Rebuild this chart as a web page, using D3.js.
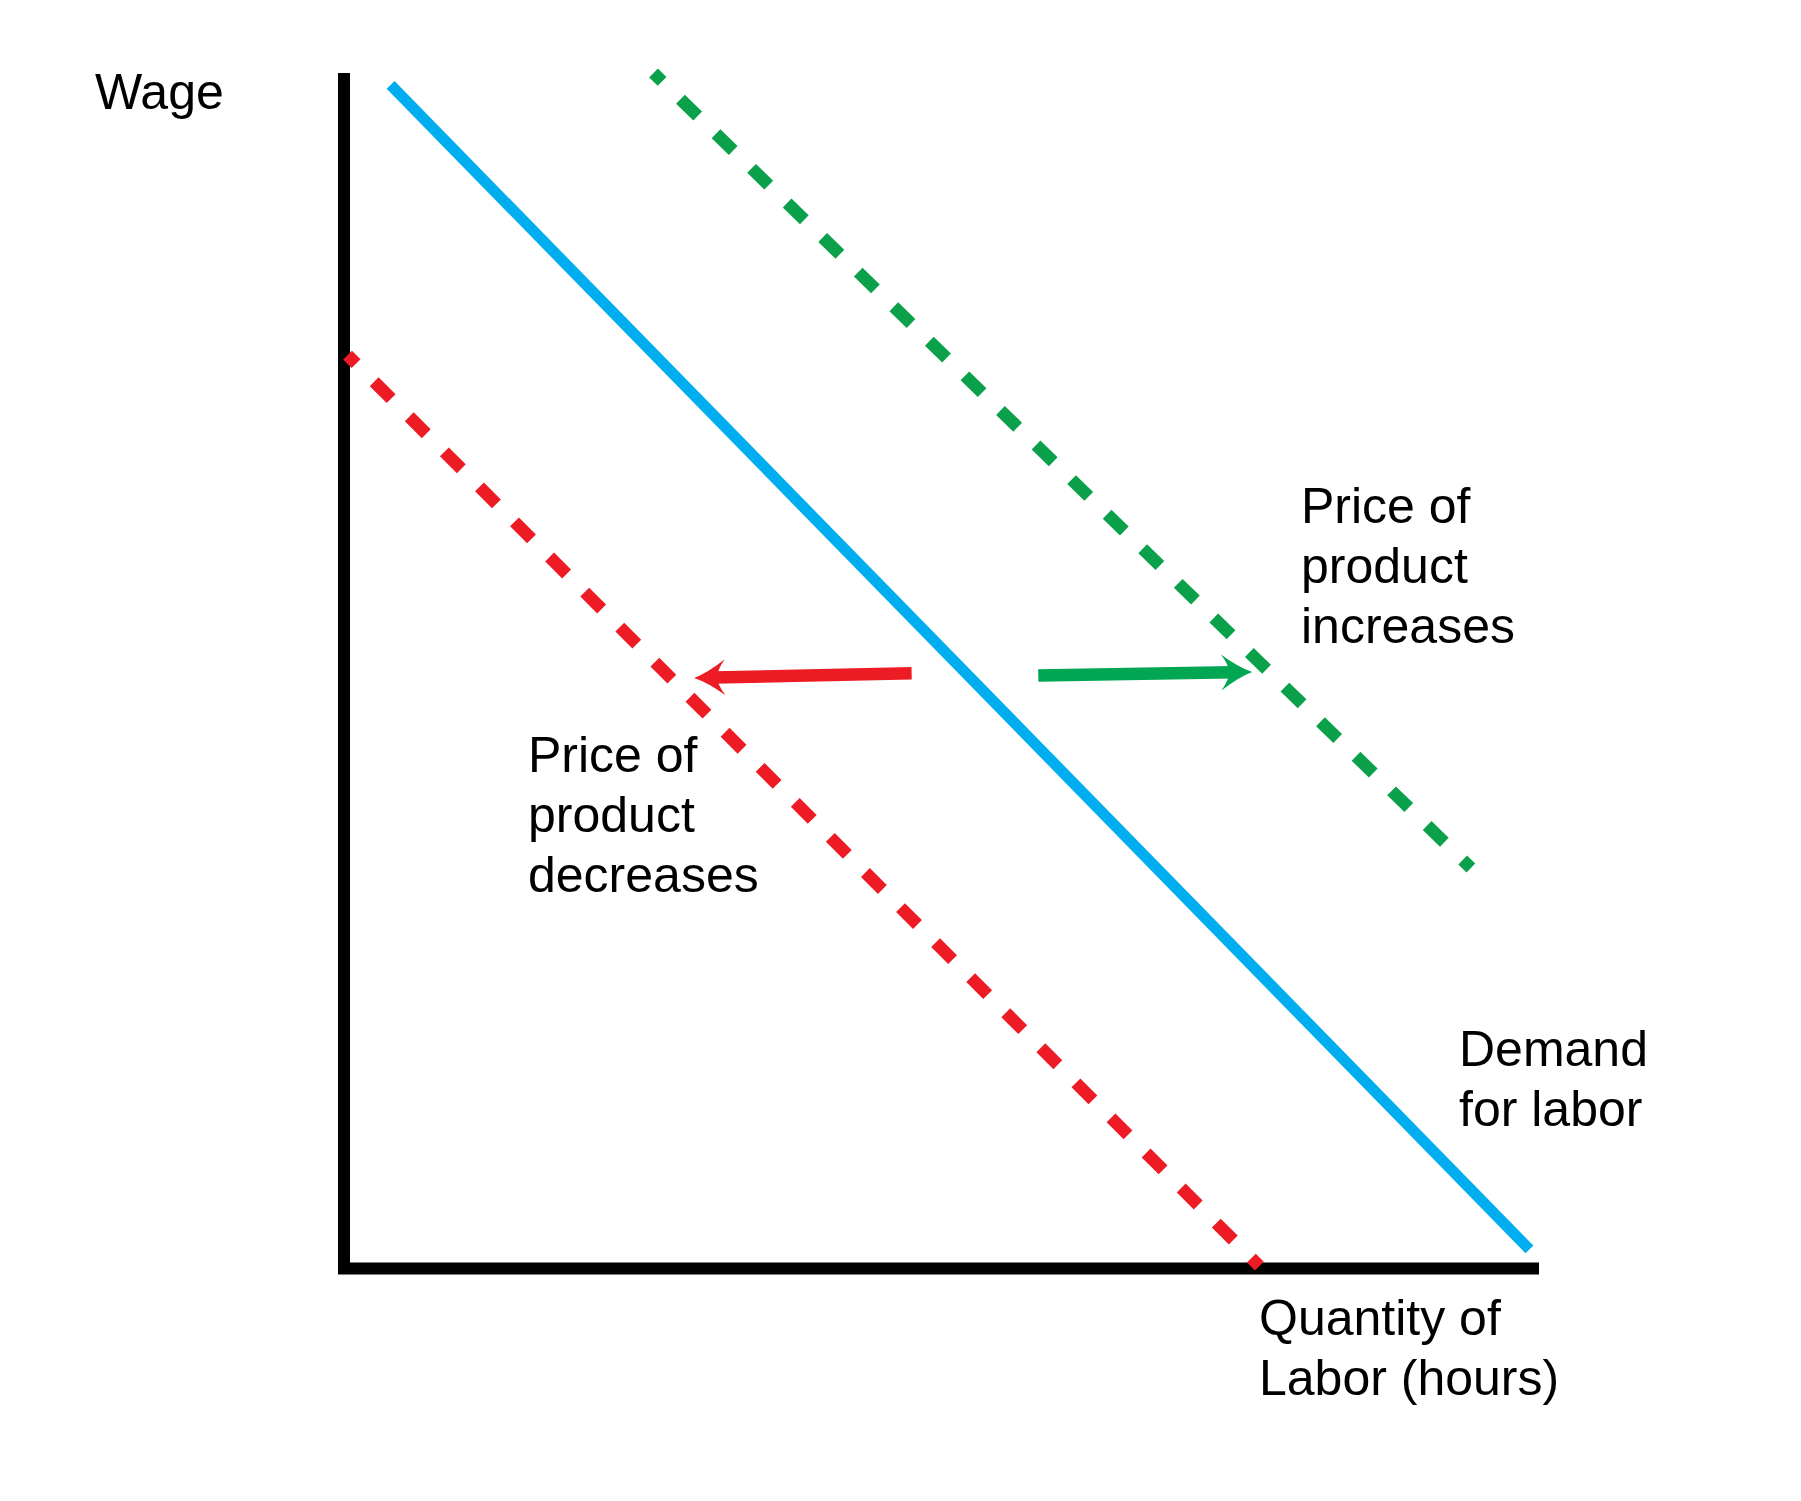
<!DOCTYPE html>
<html>
<head>
<meta charset="utf-8">
<script src="https://cdn.jsdelivr.net/npm/d3@7/dist/d3.min.js"></script>
<style>
  html, body { margin: 0; padding: 0; background: #fff; }
  svg { display: block; }
  text { font-family: "Liberation Sans", Arial, Helvetica, sans-serif; font-size: 50px; fill: #000; }
</style>
</head>
<body>
<script>
// ---- data (in chart units: quantity 0..100, wage 0..100) ----
const demandLine   = [[3.9, 99.0], [99.2, 1.6]];
const increaseLine = [[25.9, 100.0], [94.3, 33.5]];
const decreaseLine = [[0.3, 76.4], [76.6, 0.2]];
const decreaseArrow = [[47.5, 49.8], [29.3, 49.4]];
const increaseArrow = [[58.1, 49.6], [76.0, 49.9]];
const yAxisLabel = ["Wage"];
const xAxisLabel = ["Quantity of", "Labor (hours)"];
const demandLabel = ["Demand", "for labor"];
const increaseLabel = ["Price of", "product", "increases"];
const decreaseLabel = ["Price of", "product", "decreases"];

const W = 1801, H = 1501;
const svg = d3.select("body").append("svg").attr("width", W).attr("height", H);

const x = d3.scaleLinear().domain([0, 100]).range([344, 1539]);
const y = d3.scaleLinear().domain([0, 100]).range([1268.5, 73]);
const line = d3.line().x(d => x(d[0])).y(d => y(d[1]));

// axes (L shape)
svg.append("path")
  .attr("d", line([[0, 100], [0, 0], [100, 0]]))
  .attr("fill", "none").attr("stroke", "#000").attr("stroke-width", 12)
  .attr("stroke-linejoin", "miter").attr("stroke-linecap", "butt");

// demand line
svg.append("path").attr("d", line(demandLine))
  .attr("fill", "none").attr("stroke", "#00AEEF").attr("stroke-width", 11);

// shifted lines (dashed)
svg.append("path").attr("d", line(increaseLine))
  .attr("fill", "none").attr("stroke", "#0BA14B").attr("stroke-width", 12.5)
  .attr("stroke-dasharray", "24 25.6").attr("stroke-dashoffset", 12);
svg.append("path").attr("d", line(decreaseLine))
  .attr("fill", "none").attr("stroke", "#ED1C24").attr("stroke-width", 12.5)
  .attr("stroke-dasharray", "24 25.6").attr("stroke-dashoffset", 12);

// arrows
function arrow(pts, color) {
  const x1 = x(pts[0][0]), y1 = y(pts[0][1]);
  const x2 = x(pts[1][0]), y2 = y(pts[1][1]);
  const ang = Math.atan2(y2 - y1, x2 - x1);
  const len = Math.hypot(x2 - x1, y2 - y1);
  const g = svg.append("g")
    .attr("transform", `translate(${x1},${y1}) rotate(${ang * 180 / Math.PI})`);
  g.append("line").attr("x1", 0).attr("y1", 0).attr("x2", len - 20).attr("y2", 0)
    .attr("stroke", color).attr("stroke-width", 12.5);
  g.append("path")
    .attr("transform", `translate(${len},0)`)
    .attr("d", "M0,0 Q-14,-5 -31,-18 Q-23,-7 -23,0 Q-23,7 -31,18 Q-14,5 0,0 Z")
    .attr("fill", color);
}
arrow(decreaseArrow, "#ED1C24");
arrow(increaseArrow, "#00A651");

// labels
function label(lines, px, py) {
  const t = svg.append("text").attr("x", px).attr("y", py);
  lines.forEach((s, i) => {
    t.append("tspan").attr("x", px).attr("y", py + i * 60).text(s);
  });
}
label(yAxisLabel, 95, 109);
label(increaseLabel, 1301, 523);
label(decreaseLabel, 528, 772);
label(demandLabel, 1459, 1066);
label(xAxisLabel, 1259, 1335);
</script>
</body>
</html>
